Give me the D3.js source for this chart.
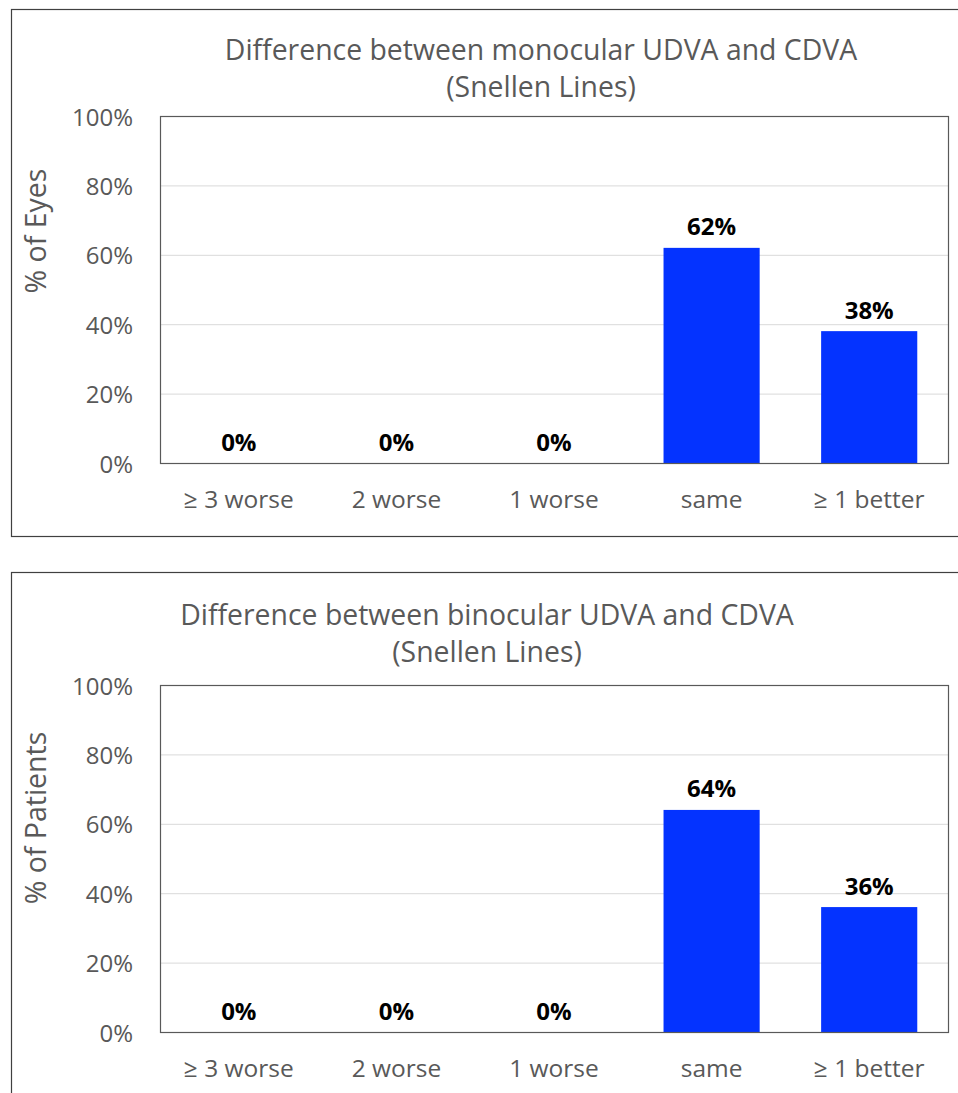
<!DOCTYPE html>
<html lang="en">
<head>
    <meta charset="UTF-8">
    <title>Difference between UDVA and CDVA</title>
    <script src="https://d3js.org/d3.v7.min.js"></script>
    <style>
        body {
            margin: 0;
            background: #fff;
            font-family: "Open Sans", sans-serif;
        }
        svg {
            display: block;
        }
    </style>
</head>
<body>
    <div id="chart"></div>

    <script>
        // Data
        const categories = ["≥ 3 worse", "2 worse", "1 worse", "same", "≥ 1 better"];
        const monocularPct = [0, 0, 0, 62, 38];
        const binocularPct = [0, 0, 0, 64, 36];
        const yTicks = [0, 20, 40, 60, 80, 100];
        const monocularTitle = ["Difference between monocular UDVA and CDVA", "(Snellen Lines)"];
        const binocularTitle = ["Difference between binocular UDVA and CDVA", "(Snellen Lines)"];
        const monocularYLabel = "% of Eyes";
        const binocularYLabel = "% of Patients";

        const W = 958, H = 1093;
        const textColor = "#595959";
        const barColor = "#0433ff";

        const svg = d3.select("#chart")
            .append("svg")
            .attr("width", W)
            .attr("height", H);

        // Plot area inside each panel (panel-local coords)
        const plot = { left: 160, right: 948, top: 116, bottom: 463 };

        const xScale = d3.scaleBand()
            .domain(categories)
            .range([plot.left, plot.right])
            .paddingInner(0.39)
            .paddingOuter(0.195);

        const yScale = d3.scaleLinear().domain([0, 100]).range([plot.bottom, plot.top]);

        function drawPanel(p) {
            const g = svg.append("g").attr("transform", `translate(0, ${p.offsetY})`);

            // outer chart border
            g.append("rect")
                .attr("x", 11.5)
                .attr("y", p.boxTop + 0.5)
                .attr("width", W)
                .attr("height", p.boxH)
                .attr("fill", "none")
                .attr("stroke", "#404040")
                .attr("stroke-width", 1.2);

            // gridlines
            g.append("g")
                .attr("transform", `translate(${plot.left}, 0)`)
                .call(d3.axisLeft(yScale).tickValues(yTicks.slice(1, -1))
                    .tickSize(-(plot.right - plot.left)).tickFormat(""))
                .call(s => s.select(".domain").remove())
                .call(s => s.selectAll("line").attr("stroke", "#d9d9d9").attr("stroke-width", 1));

            // y tick labels
            g.append("g")
                .attr("transform", `translate(${plot.left}, 0)`)
                .call(d3.axisLeft(yScale).tickValues(yTicks).tickSize(0).tickPadding(27)
                    .tickFormat(d => d + "%"))
                .call(s => s.select(".domain").remove())
                .call(s => s.selectAll("text")
                    .attr("fill", textColor)
                    .attr("font-size", 24)
                    .attr("font-family", "Open Sans")
                    .attr("dy", "0.38em"));

            // x tick labels
            g.append("g")
                .attr("transform", `translate(0, ${plot.bottom})`)
                .call(d3.axisBottom(xScale).tickSize(0).tickPadding(0))
                .call(s => s.select(".domain").remove())
                .call(s => s.selectAll("text")
                    .attr("fill", textColor)
                    .attr("font-size", 24.5)
                    .attr("font-family", "Open Sans")
                    .attr("dy", null)
                    .attr("y", 45));

            // bars
            g.selectAll(".bar")
                .data(p.values)
                .enter()
                .append("rect")
                .attr("class", "bar")
                .attr("x", (d, i) => xScale(categories[i]))
                .attr("y", d => yScale(d))
                .attr("width", xScale.bandwidth())
                .attr("height", d => yScale(0) - yScale(d))
                .attr("fill", barColor);

            // value labels
            g.selectAll(".value")
                .data(p.values)
                .enter()
                .append("text")
                .attr("class", "value")
                .attr("x", (d, i) => xScale(categories[i]) + xScale.bandwidth() / 2)
                .attr("y", d => yScale(d) - 12.5)
                .attr("text-anchor", "middle")
                .attr("font-size", 24)
                .attr("font-weight", "bold")
                .attr("fill", "#000")
                .text(d => d + "%");

            // plot area border
            g.append("rect")
                .attr("x", plot.left + 0.5)
                .attr("y", plot.top + 0.5)
                .attr("width", plot.right - plot.left)
                .attr("height", plot.bottom - plot.top)
                .attr("fill", "none")
                .attr("stroke", "#595959")
                .attr("stroke-width", 1.2);

            // title
            g.append("text")
                .attr("x", p.titleX)
                .attr("y", p.titleY)
                .attr("text-anchor", "middle")
                .attr("font-size", 28.4)
                .attr("fill", textColor)
                .selectAll("tspan")
                .data(p.title)
                .enter()
                .append("tspan")
                .attr("x", p.titleX)
                .attr("dy", (d, i) => i === 0 ? 0 : 37)
                .text(d => d);

            // y axis title
            g.append("text")
                .attr("transform", `translate(46, ${p.yLabelY}) rotate(-90)`)
                .attr("text-anchor", "middle")
                .attr("font-size", 28.5)
                .attr("fill", textColor)
                .text(p.yLabel);
        }

        drawPanel({ offsetY: 0, boxTop: 9, boxH: 527, values: monocularPct, title: monocularTitle,
            titleX: 541, titleY: 60, yLabel: monocularYLabel, yLabelY: 231 });
        drawPanel({ offsetY: 569, boxTop: 3, boxH: 600, values: binocularPct, title: binocularTitle,
            titleX: 487, titleY: 56, yLabel: binocularYLabel, yLabelY: 249 });
    </script>
</body>
</html>
